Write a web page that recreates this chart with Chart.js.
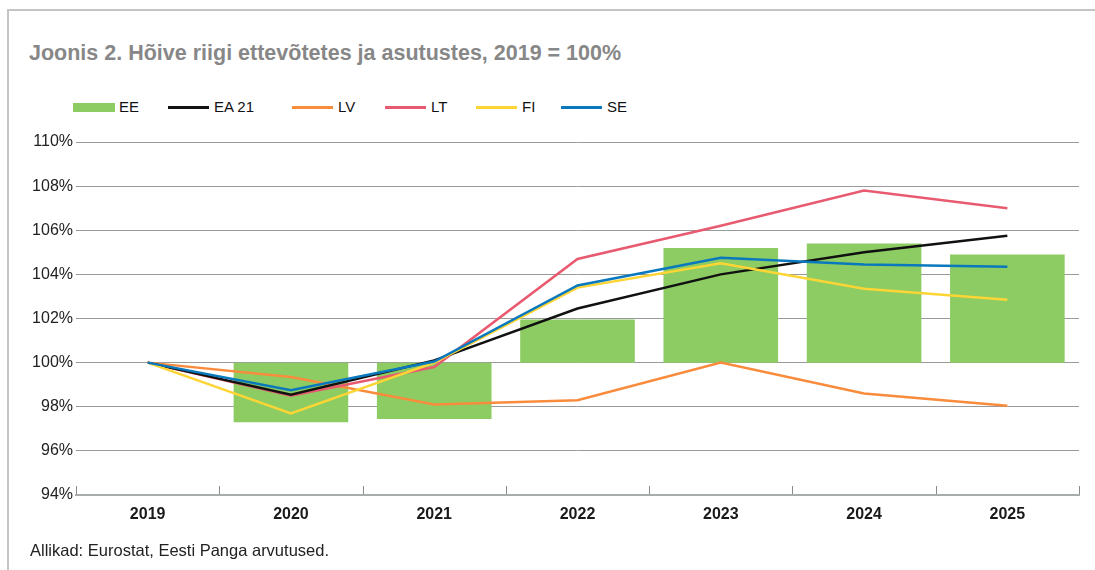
<!DOCTYPE html>
<html>
<head>
<meta charset="utf-8">
<script src="https://cdn.jsdelivr.net/npm/chart.js@4"></script>
<style>
  body { margin: 0; background: #fff; font-family: "Liberation Sans", Arial, sans-serif; }
  #wrap { position: relative; width: 1095px; height: 570px; overflow: hidden; }
  #frame { position: absolute; left: 7px; top: 9px; width: 1100px; height: 600px;
           border-top: 2px solid #c4c4c4; border-left: 2px solid #c4c4c4; }
  #title { position: absolute; left: 29px; top: 41px; font-size: 21.5px; font-weight: bold; color: #878787; }
  #legend { position: absolute; left: 0; top: 97px; font-size: 15px; color: #111; }
  .item { position: absolute; top: 0; white-space: nowrap; line-height: 20px; }
  .sw { position: absolute; top: 9px; width: 41px; height: 3px; }
  .lab { position: absolute; left: 46px; top: 0; }
  #source { position: absolute; left: 30px; top: 541px; font-size: 16.5px; color: #222; }
  canvas { position: absolute; left: 0; top: 0; }
</style>
</head>
<body>
<div id="wrap">
  <div id="frame"></div>
  <div id="title">Joonis 2. Hõive riigi ettevõtetes ja asutustes, 2019 = 100%</div>
  <div id="legend"></div>
  <canvas id="chart" width="1095" height="570"></canvas>
  <div id="source">Allikad: Eurostat, Eesti Panga arvutused.</div>
</div>
<script>
// andmed (2019 = 100)
const years = ["2019", "2020", "2021", "2022", "2023", "2024", "2025"];
const yTicks = [94, 96, 98, 100, 102, 104, 106, 108, 110];
const ee = [100, 97.3, 97.45, 101.95, 105.2, 105.4, 104.9];
const ea21 = [100, 98.55, 100.1, 102.45, 104.0, 105.0, 105.75];
const lv = [100, 99.35, 98.1, 98.3, 100.0, 98.6, 98.05];
const lt = [100, 98.5, 99.8, 104.7, 106.2, 107.8, 107.0];
const fi = [100, 97.7, 100.0, 103.4, 104.5, 103.35, 102.85];
const se = [100, 98.75, 100.05, 103.5, 104.75, 104.45, 104.35];

const colors = {
  EE: "#8ccc62",
  "EA 21": "#111111",
  LV: "#f98c3c",
  LT: "#e85a70",
  FI: "#fdd535",
  SE: "#0a78bd"
};

// legend (käsitsi, et asukohad klapiks)
const legendPos = [
  { name: "EE", x: 73, bar: true },
  { name: "EA 21", x: 168 },
  { name: "LV", x: 292 },
  { name: "LT", x: 385 },
  { name: "FI", x: 476 },
  { name: "SE", x: 561 }
];
const legendEl = document.getElementById("legend");
legendPos.forEach(function (l) {
  const div = document.createElement("div");
  div.className = "item";
  div.style.left = l.x + "px";
  const sw = document.createElement("div");
  sw.className = "sw";
  sw.style.background = colors[l.name];
  if (l.bar) { sw.style.top = "6px"; sw.style.height = "9px"; sw.style.width = "42px"; }
  const lab = document.createElement("span");
  lab.className = "lab";
  lab.textContent = l.name;
  div.appendChild(sw);
  div.appendChild(lab);
  legendEl.appendChild(div);
});

// väikesed püstised kriipsud x-telje kohal kategooriate piiridel
const boundaryTicks = {
  id: "boundaryTicks",
  afterDatasetsDraw(chart) {
    const x = chart.scales.x;
    const bottom = chart.chartArea.bottom;
    const ctx = chart.ctx;
    const half = (x.getPixelForValue(1) - x.getPixelForValue(0)) / 2;
    ctx.save();
    ctx.strokeStyle = "#8a8a8a";
    ctx.lineWidth = 1;
    for (let i = 0; i <= years.length; i++) {
      const px = Math.round(x.getPixelForValue(0) - half + i * half * 2) + 0.5;
      ctx.beginPath();
      ctx.moveTo(px, bottom - 9);
      ctx.lineTo(px, bottom - 1);
      ctx.stroke();
    }
    ctx.restore();
  }
};

function lineSet(label, data, order) {
  return {
    type: "line",
    label: label,
    data: data,
    borderColor: colors[label],
    backgroundColor: colors[label],
    borderWidth: 2.5,
    pointRadius: 0,
    tension: 0,
    order: order
  };
}

const ctx = document.getElementById("chart").getContext("2d");
new Chart(ctx, {
  type: "bar",
  data: {
    labels: years,
    datasets: [
      {
        label: "EE",
        data: ee.map(v => [100, v]),
        backgroundColor: colors.EE,
        borderWidth: 0,
        categoryPercentage: 1,
        barPercentage: 0.8,
        order: 10
      },
      lineSet("EA 21", ea21, 3),
      lineSet("LV", lv, 5),
      lineSet("LT", lt, 4),
      lineSet("FI", fi, 2),
      lineSet("SE", se, 1)
    ]
  },
  options: {
    responsive: false,
    animation: false,
    layout: { padding: { left: 30, right: 16, top: 142, bottom: 45 } },
    plugins: {
      legend: { display: false },
      tooltip: { enabled: false }
    },
    scales: {
      x: {
        offset: true,
        grid: { display: false, drawTicks: false },
        border: { display: true, color: "#a9acac", width: 2 },
        ticks: {
          color: "#1a1a1a",
          padding: 10,
          font: { family: "Liberation Sans", size: 16, weight: "bold" }
        },
        afterFit(scale) { scale.height = 30; }
      },
      y: {
        min: 94,
        max: 110,
        afterBuildTicks(scale) { scale.ticks = yTicks.map(v => ({ value: v })); },
        grid: { color: "#9a9a9a", lineWidth: 1, drawTicks: false },
        border: { display: false },
        ticks: {
          color: "#222",
          padding: 3,
          font: { family: "Liberation Sans", size: 16 },
          callback: v => v + "%"
        },
        afterFit(scale) { scale.width = 46; }
      }
    }
  },
  plugins: [boundaryTicks]
});
</script>
</body>
</html>
